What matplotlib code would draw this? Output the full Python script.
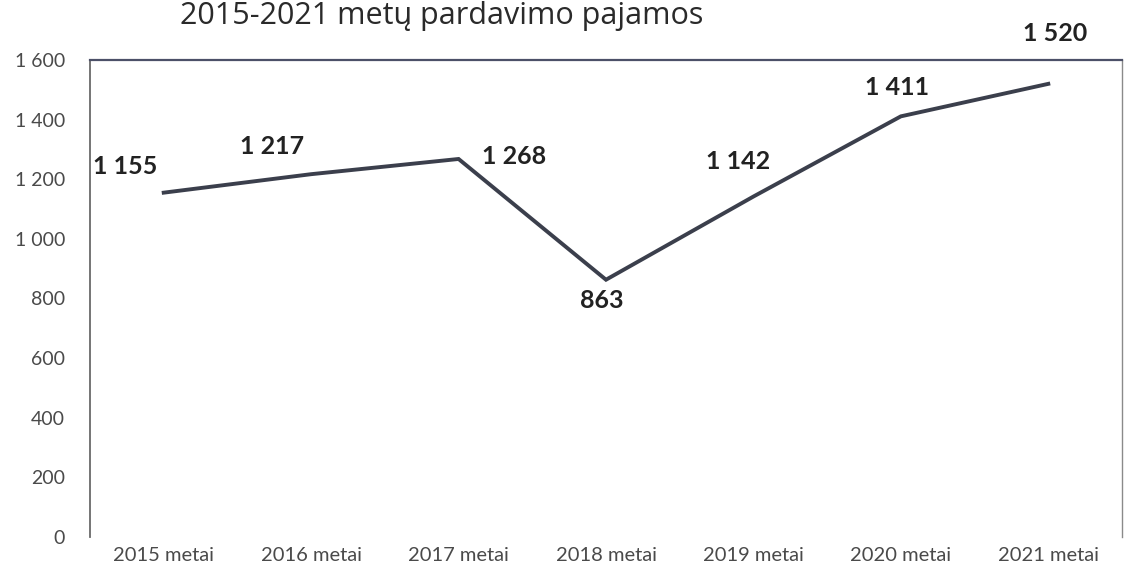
import matplotlib.pyplot as plt

years = ["2015 metai", "2016 metai", "2017 metai", "2018 metai",
         "2019 metai", "2020 metai", "2021 metai"]
revenue = [1155, 1217, 1268, 863, 1142, 1411, 1520]
yticks = [0, 200, 400, 600, 800, 1000, 1200, 1400, 1600]
# label offsets in points (dx, dy) relative to each point
label_offsets = [(-28, 19), (-28, 20), (40, 2), (-3, -15), (-11, 25), (-3, 21), (5, 36)]


def fmt(v):
    return f"{v:,}".replace(",", " ")


fig = plt.figure(figsize=(11.27, 5.74), dpi=100)
ax = fig.add_axes([90 / 1127, 1 - 537 / 574, (1122 - 90) / 1127, (537 - 60) / 574])

x = list(range(len(years)))
ax.plot(x, revenue, color="#3b3f4c", linewidth=2.8, solid_joinstyle="miter")

for xi, v, (dx, dy) in zip(x, revenue, label_offsets):
    ax.annotate(fmt(v), (xi, v), xytext=(dx, dy), textcoords="offset points",
                ha="center", va="center", fontsize=18, fontweight="bold",
                family="Lato", color="#222222", annotation_clip=False)

ax.set_xlim(-0.5, 6.5)
ax.set_ylim(0, 1600)
ax.set_xticks(x)
ax.set_xticklabels(years, family="Lato", fontsize=14.5, color="#4a4a4a")
ax.set_yticks(yticks)
ax.set_yticklabels([fmt(t) for t in yticks], family="Lato", fontsize=14, color="#4a4a4a")
ax.tick_params(length=0)
ax.tick_params(axis="x", pad=7)
ax.tick_params(axis="y", pad=18)

ax.spines["bottom"].set_visible(False)
ax.spines["left"].set_color("#6a6a6a")
ax.spines["left"].set_linewidth(1.3)
ax.spines["top"].set_color("#4c5068")
ax.spines["top"].set_linewidth(1.6)
ax.spines["right"].set_color("#8a8a8a")
ax.spines["right"].set_linewidth(1.0)

fig.text(180 / 1127, 1 - 24 / 574, "2015-2021 metų pardavimo pajamos",
         fontsize=22, family="Open Sans", color="#2a2a2a", va="baseline", ha="left")

fig.savefig("out.png", dpi=100, facecolor="white")
